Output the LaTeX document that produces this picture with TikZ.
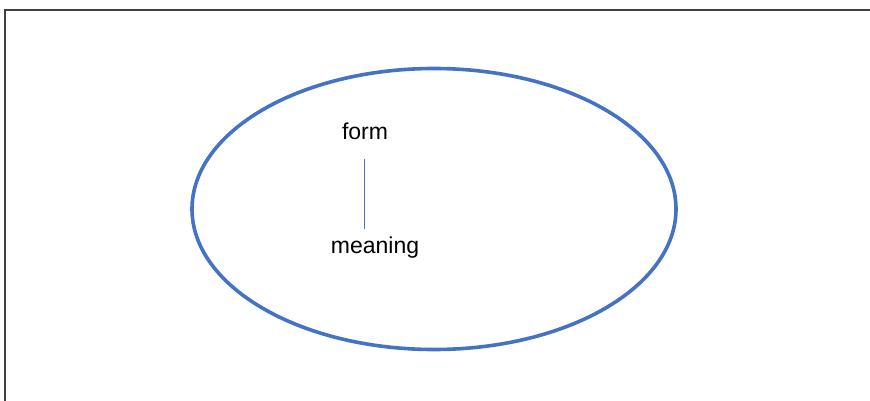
\documentclass[tikz,border=0pt]{standalone}
\usepackage{fontspec}
\setmainfont{Liberation Sans}
\usetikzlibrary{shapes.geometric}
\definecolor{ellblue}{HTML}{4472C4}
\definecolor{framegray}{HTML}{404040}
\begin{document}
\begin{tikzpicture}[x=1pt,y=-1pt,
  lbl/.style={inner sep=0pt,font=\fontsize{23}{27}\selectfont},
  frameline/.style={draw=framegray,line width=1.6pt}]
\useasboundingbox (0,0) rectangle (870,401);
\draw[frameline] (5,401) -- (5,9.8) -- (870,9.8);
\node[draw=ellblue,line width=3.6pt,ellipse,inner sep=0pt,outer sep=0pt,minimum width=484pt,minimum height=281pt] (oval) at (434,209) {};
\node[lbl] (form) at (365,131) {form};
\node[lbl] (meaning) at (375,248) {meaning};
\coordinate (l1) at (364,159);
\coordinate (l2) at (364,229);
\draw[ellblue,line width=0.9pt] (l1) -- (l2);
\end{tikzpicture}
\end{document}
